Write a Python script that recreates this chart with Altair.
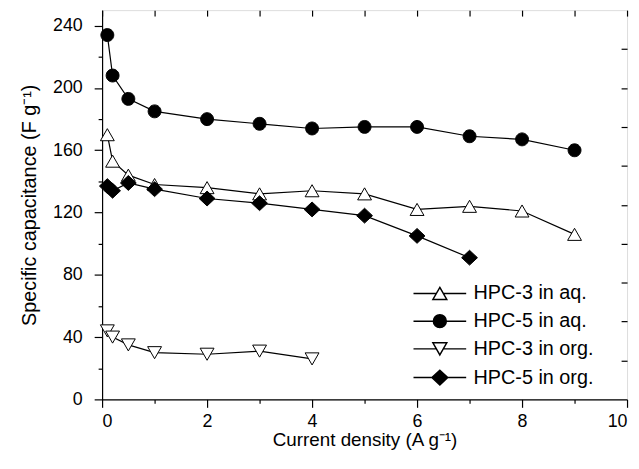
import altair as alt
import pandas as pd

series_names = ["HPC-3 in aq.", "HPC-5 in aq.", "HPC-3 in org.", "HPC-5 in org."]

x_aq = [0.1, 0.2, 0.5, 1, 2, 3, 4, 5, 6, 7, 8, 9]
hpc3_aq = [170, 153, 144, 138, 136, 132, 134, 132, 122, 124, 121, 106]
hpc5_aq = [234, 208, 193, 185, 180, 177, 174, 175, 175, 169, 167, 160]
x_org3 = [0.1, 0.2, 0.5, 1, 2, 3, 4]
hpc3_org = [44, 40, 35, 30, 29, 31, 26]
x_org5 = [0.1, 0.2, 0.5, 1, 2, 3, 4, 5, 6, 7]
hpc5_org = [137, 134, 139, 135, 129, 126, 122, 118, 105, 91]

x_major = [0, 2, 4, 6, 8, 10]
x_minor = [1, 3, 5, 7, 9]
x_top = [0, 1, 2, 3, 4, 5, 6, 7, 8, 9, 10]
y_major = [0, 40, 80, 120, 160, 200, 240]
y_minor = [20, 60, 100, 140, 180, 220]
y_right = [25, 50, 75, 100, 125, 150, 175, 200, 225]

rows = []
for name, xs, ys in [
    (series_names[0], x_aq, hpc3_aq),
    (series_names[1], x_aq, hpc5_aq),
    (series_names[2], x_org3, hpc3_org),
    (series_names[3], x_org5, hpc5_org),
]:
    for xv, yv in zip(xs, ys):
        rows.append({"series": name, "x": xv, "y": yv})
df = pd.DataFrame(rows)

FONT = "Liberation Sans"

tri_up = "M0,-0.87L1,0.87L-1,0.87Z"
circ = "M0.93,0A0.93,0.93,0,1,1,-0.93,0A0.93,0.93,0,1,1,0.93,0Z"
tri_down = "M0,0.87L1,-0.87L-1,-0.87Z"
diam = "M0,-1.07L1.14,0L0,1.07L-1.14,0Z"
plot_shapes = [tri_up, circ, tri_down, diam]
legend_shapes = [
    tri_up + "M-3.8,0L-0.5,0M0.5,0L3.8,0",
    circ + "M-3.8,0L-0.93,0M0.93,0L3.8,0",
    tri_down + "M-3.8,0L-0.5,0M0.5,0L3.8,0",
    diam + "M-3.8,0L-1.14,0M1.14,0L3.8,0",
]
fills = ["white", "black", "white", "black"]

xs_scale = alt.Scale(domain=[0, 10], nice=False, zero=False)
ys_scale = alt.Scale(domain=[0, 250], nice=False, zero=False)

base_axis = dict(labelFont=FONT, labelColor="black", labelFontSize=18,
                 tickColor="black", tickWidth=1.2, grid=False,
                 domainColor="black", domainWidth=1.2,
                 titleFont=FONT, titleFontWeight="normal", titleColor="black")
minor_axis = dict(labels=False, domain=False, title=None, tickColor="black",
                  tickWidth=1.2, grid=False)

# connecting lines + main (labelled) axes
lines = alt.Chart(df).mark_line(color="black", strokeWidth=1.2).encode(
    x=alt.X("x:Q", scale=xs_scale, axis=alt.Axis(
        orient="bottom", values=x_major, tickSize=8, labelPadding=5,
        title="Current density (A g⁻¹)", titlePadding=1, titleFontSize=19, **base_axis)),
    y=alt.Y("y:Q", scale=ys_scale, axis=alt.Axis(
        orient="left", values=y_major, tickSize=8, labelPadding=12,
        title="Specific capacitance (F g⁻¹)", titlePadding=13, titleFontSize=20, **base_axis)),
    detail="series:N",
)

# markers + inward ticks on top and right borders
points = alt.Chart(df).mark_point(filled=True, stroke="black", strokeWidth=1,
                                   opacity=1, size=196).encode(
    x=alt.X("x:Q", scale=xs_scale, axis=alt.Axis(
        orient="top", values=x_top, tickSize=6, offset=-6, **minor_axis)),
    y=alt.Y("y:Q", scale=ys_scale, axis=alt.Axis(
        orient="right", values=y_right, tickSize=6, offset=-6, **minor_axis)),
    shape=alt.Shape("series:N", scale=alt.Scale(domain=series_names, range=plot_shapes), legend=None),
    fill=alt.Fill("series:N", scale=alt.Scale(domain=series_names, range=fills), legend=None),
)

# minor ticks on left and bottom (invisible marks)
minor = alt.Chart(df).mark_point(opacity=0).encode(
    x=alt.X("x:Q", scale=xs_scale, axis=alt.Axis(
        orient="bottom", values=x_minor, tickSize=4, **minor_axis)),
    y=alt.Y("y:Q", scale=ys_scale, axis=alt.Axis(
        orient="left", values=y_minor, tickSize=4, **minor_axis)),
)

# legend source: its marks fall outside the clipped plot, only the legend shows
leg = alt.Legend(title=None, orient="none", legendX=331, legendY=276,
                 labelFont=FONT, labelFontSize=20, labelColor="black", padding=0,
                 symbolSize=196, labelOffset=24, rowPadding=8)

legend_layer = alt.Chart(df).mark_point(
    filled=True, stroke="black", strokeWidth=1.2, opacity=1, size=196, clip=True).encode(
    x=alt.X("x:Q", scale=alt.Scale(domain=[-100, -90]), axis=None),
    y=alt.Y("y:Q", scale=ys_scale, axis=None),
    shape=alt.Shape("series:N", scale=alt.Scale(domain=series_names, range=legend_shapes), legend=leg),
    fill=alt.Fill("series:N", scale=alt.Scale(domain=series_names, range=fills), legend=leg),
)

chart = alt.layer(lines, minor, legend_layer, points).resolve_scale(
    x="independent", y="independent", shape="independent", fill="independent"
).resolve_axis(x="independent", y="independent").properties(
    width=530, height=393,
    autosize=alt.AutoSizeParams(type="none"),
    padding={"left": 95, "top": 0, "right": 4, "bottom": 55},
).configure_view(stroke="black", strokeWidth=1.2).configure(background="white")

chart.save("out.html", embed_options={"renderer": "svg", "actions": False})
